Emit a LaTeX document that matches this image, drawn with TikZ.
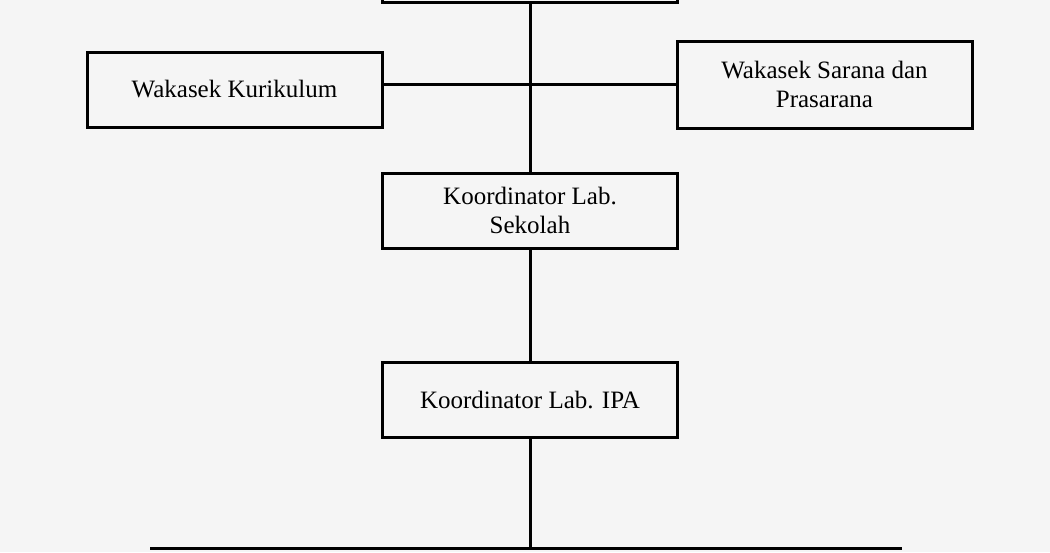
\documentclass[tikz,border=0pt]{standalone}
\usepackage{fontspec}
\setmainfont{Liberation Serif}
\begin{document}
\begin{tikzpicture}[x=1pt,y=-1pt,line width=3pt,
  bx/.style={draw,rectangle,minimum width=295pt,align=center,font=\fontsize{25}{29}\selectfont,inner sep=0pt}]
\fill[white!96!black] (0,0) rectangle (1050,552);
\useasboundingbox (0,0) rectangle (1050,552);
\node[bx,minimum height=75pt] (top) at (530,-35) {};
\node[bx,minimum height=75pt] (kur) at (234.5,89.5) {Wakasek Kurikulum};
\node[bx,minimum height=87pt] (sar) at (824.5,84.5) {Wakasek Sarana dan\\Prasarana};
\node[bx,minimum height=75pt] (sek) at (530,210.5) {Koordinator Lab.\\Sekolah};
\node[bx,minimum height=75pt] (ipa) at (530,399.5) {Koordinator Lab. IPA};
\coordinate (bl) at (150,548);
\coordinate (br) at (902,548);
\coordinate (bm) at (530,548);
\draw (top.south) -- (sek.north);
\draw (kur.east |- 0,84) -- (sar.west |- 0,84);
\draw (sek.south) -- (ipa.north);
\draw (ipa.south) -- (bm);
\draw (bl) -- (br);
\end{tikzpicture}
\end{document}
